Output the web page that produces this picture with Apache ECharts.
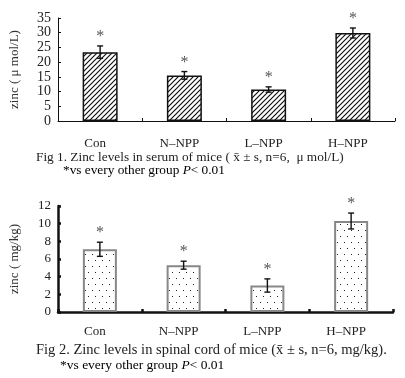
<!DOCTYPE html>
<html>
<head>
<meta charset="utf-8">
<script src="https://cdn.jsdelivr.net/npm/echarts@6/dist/echarts.min.js"></script>
<style>html,body{margin:0;padding:0;background:#fff;}#c{width:405px;height:378px;}</style>
</head>
<body>
<div id="c"></div>
<script>
const categories = ['Con', 'N\u2013NPP', 'L\u2013NPP', 'H\u2013NPP'];
const serumMean = [23.4, 15.5, 10.7, 29.9];
const serumSD = [2.1, 1.3, 0.9, 1.7];
const spinalMean = [7.1, 5.3, 3.0, 10.3];
const spinalSD = [0.8, 0.45, 0.75, 0.9];
const serumAxis = { min: 0, max: 35, interval: 5, name: 'zinc ( \u03bc mol/L)' };
const spinalAxis = { min: 0, max: 12, interval: 2, name: 'zinc ( mg/kg)' };
const caption1 = 'Fig 1. Zinc levels in serum of mice ( x\u0304 \u00b1 s, n=6,  \u03bc mol/L)';
const caption2 = 'Fig 2. Zinc levels in spinal cord of mice (x\u0304 \u00b1 s, n=6, mg/kg).';
const note = ['*vs every other group ', 'P', '< 0.01'];

const FONT = "'Liberation Serif', 'DejaVu Serif', serif";

function hatchPattern() {
  const c = document.createElement('canvas');
  c.width = 5; c.height = 5;
  const g = c.getContext('2d');
  g.fillStyle = '#fff'; g.fillRect(0, 0, 5, 5);
  g.strokeStyle = '#111'; g.lineWidth = 1.2;
  g.beginPath();
  g.moveTo(-1, 6); g.lineTo(6, -1);
  g.moveTo(-1, 1); g.lineTo(1, -1);
  g.moveTo(4, 6); g.lineTo(6, 4);
  g.stroke();
  return c;
}
function dotPattern() {
  const c = document.createElement('canvas');
  c.width = 7; c.height = 12;
  const g = c.getContext('2d');
  g.fillStyle = '#fff'; g.fillRect(0, 0, 7, 12);
  g.fillStyle = '#222';
  g.fillRect(1, 2, 1, 1);
  g.fillRect(4, 8, 1, 1);
  return c;
}

function errData(mean, sd) {
  return mean.map((m, i) => [i, m, sd[i]]);
}
function errRender(params, api) {
  const x = api.value(0), m = api.value(1), s = api.value(2);
  const top = api.coord([x, m + s]);
  const bot = api.coord([x, m - s]);
  const cw = 3;
  return {
    type: 'group',
    children: [
      { type: 'line', shape: { x1: top[0], y1: top[1], x2: bot[0], y2: bot[1] }, style: { stroke: '#111', lineWidth: 1.4 } },
      { type: 'line', shape: { x1: top[0] - cw, y1: top[1], x2: top[0] + cw, y2: top[1] }, style: { stroke: '#111', lineWidth: 1.4 } },
      { type: 'line', shape: { x1: bot[0] - cw, y1: bot[1], x2: bot[0] + cw, y2: bot[1] }, style: { stroke: '#111', lineWidth: 1.4 } },
      { type: 'text', style: { text: '*', x: top[0], y: top[1] - 9, align: 'center', verticalAlign: 'middle', font: '16px ' + FONT, fill: '#555' } }
    ]
  };
}

function makeY(idx, ax, thick) {
  return {
    gridIndex: idx, type: 'value', min: ax.min, max: ax.max, interval: ax.interval,
    name: ax.name, nameLocation: 'middle', nameGap: 37, nameRotate: 90,
    nameTextStyle: { fontFamily: FONT, fontSize: 13, color: '#333' },
    axisLine: { show: true, lineStyle: { color: '#111', width: thick ? 2.5 : 1 } },
    axisTick: { show: true, inside: true, length: 3, lineStyle: { color: '#111', width: thick ? 2.5 : 1 } },
    axisLabel: { fontFamily: FONT, fontSize: thick ? 13 : 14, color: '#222', margin: 7 },
    splitLine: { show: false }
  };
}
function makeX(idx, thick) {
  return {
    gridIndex: idx, type: 'category', data: categories,
    axisLine: { lineStyle: { color: '#111', width: thick ? 2.5 : 1 } },
    axisTick: { show: true, inside: true, length: 3, lineStyle: { color: '#111', width: thick ? 2.5 : 1 } },
    axisLabel: { fontFamily: FONT, fontSize: 13, color: '#222', margin: thick ? 13 : 16, padding: [0, 10, 0, 0] }
  };
}

const noteRich = (size) => ({
  a: { fontFamily: FONT, fontSize: size, color: '#222' },
  b: { fontFamily: FONT, fontSize: size, fontStyle: 'italic', color: '#222' }
});
const noteText = '{a|' + note[0] + '}{b|' + note[1] + '}{a|' + note[2] + '}';

const chart = echarts.init(document.getElementById('c'), null, { renderer: 'canvas' });
chart.setOption({
  animation: false,
  backgroundColor: '#fff',
  grid: [
    { left: 52, right: 10, top: 18, height: 103 },
    { left: 52, right: 12, top: 206, height: 106 }
  ],
  xAxis: [makeX(0, false), makeX(1, true)],
  yAxis: [makeY(0, serumAxis, false), makeY(1, spinalAxis, true)],
  series: [
    { type: 'bar', xAxisIndex: 0, yAxisIndex: 0, data: serumMean, barWidth: 35,
      itemStyle: { color: { image: hatchPattern(), repeat: 'repeat' }, borderColor: '#111', borderWidth: 1.5 } },
    { type: 'custom', xAxisIndex: 0, yAxisIndex: 0, data: errData(serumMean, serumSD), renderItem: errRender, encode: { x: 0, y: 1 }, z: 5 },
    { type: 'bar', xAxisIndex: 1, yAxisIndex: 1, data: spinalMean, barWidth: 34,
      itemStyle: { color: { image: dotPattern(), repeat: 'repeat' }, borderColor: '#888', borderWidth: 2 } },
    { type: 'custom', xAxisIndex: 1, yAxisIndex: 1, data: errData(spinalMean, spinalSD), renderItem: errRender, encode: { x: 0, y: 1 }, z: 5 }
  ],
  graphic: [
    { type: 'text', left: 36, top: 151, style: { text: caption1, font: '13.3px ' + FONT, fill: '#222' } },
    { type: 'text', left: 63, top: 164, style: { text: noteText, rich: noteRich(13.3) } },
    { type: 'text', left: 36, top: 343, style: { text: caption2, font: '14.5px ' + FONT, fill: '#222' } },
    { type: 'text', left: 60, top: 358, style: { text: noteText, rich: noteRich(13.5) } }
  ]
});
</script>
</body>
</html>
